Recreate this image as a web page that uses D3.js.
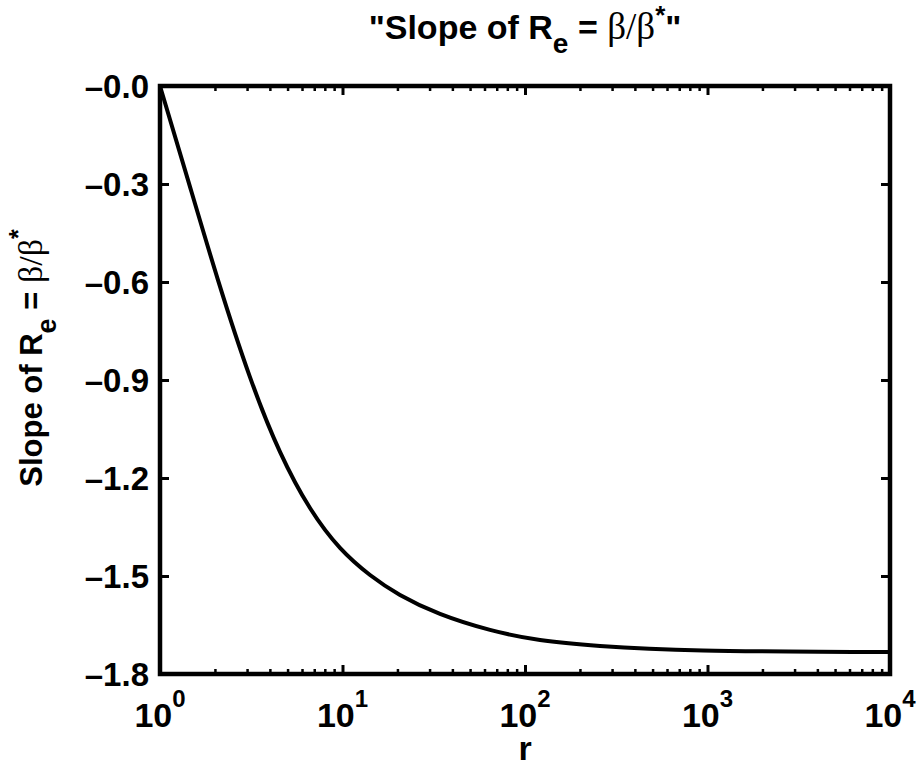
<!DOCTYPE html>
<html>
<head>
<meta charset="utf-8">
<script src="https://cdn.jsdelivr.net/npm/d3@7/dist/d3.min.js"></script>
<style>
  body { margin: 0; background: #fff; }
  svg { display: block; }
  text { font-family: "Liberation Sans", Arial, sans-serif; font-weight: bold; fill: #000; }
  .greek { font-family: "Liberation Serif", "Times New Roman", serif; font-weight: normal; }
</style>
</head>
<body>
<div id="chart"></div>
<script>
var width = 918,
    height = 769;

// values
var rValues     = [1, 1.424, 2.079, 3.112, 4.545, 6.636, 9.69, 14.15, 20.66, 34.21, 64.3, 120.9, 257.6, 944.8, 10000];
var slopeValues = [0, -0.288, -0.594, -0.891, -1.120, -1.292, -1.414, -1.497, -1.558, -1.616, -1.665, -1.696, -1.714, -1.728, -1.733];

var yTicks = [0, -0.3, -0.6, -0.9, -1.2, -1.5, -1.8];
var yTickLabels = ["\u20130.0", "\u20130.3", "\u20130.6", "\u20130.9", "\u20131.2", "\u20131.5", "\u20131.8"];
var xTicks = [1, 10, 100, 1000, 10000];
var xTickExponents = ["0", "1", "2", "3", "4"];

var plotLeft = 160, plotRight = 890, plotTop = 86, plotBottom = 674;

var x = d3.scaleLog().domain([1, 10000]).range([plotLeft, plotRight]);
var y = d3.scaleLinear().domain([-1.8, 0]).range([plotBottom, plotTop]);

var svg = d3.select("#chart").append("svg")
    .attr("width", width)
    .attr("height", height);

// minor ticks for log axis
var minorTicks = [];
for (var d = 1; d < 10000; d *= 10) {
    for (var k = 2; k <= 9; k++) minorTicks.push(d * k);
}

function drawTicks(axis, tx, ty, w) {
    var g = svg.append("g").attr("transform", "translate(" + tx + "," + ty + ")").call(axis);
    g.select(".domain").remove();
    g.selectAll("line").attr("stroke", "#000").attr("stroke-width", w);
    g.selectAll("text").remove();
}

drawTicks(d3.axisBottom(x).tickValues(minorTicks).tickSize(-5).tickFormat(""), 0, plotBottom, 2.5);
drawTicks(d3.axisTop(x).tickValues(minorTicks).tickSize(-5).tickFormat(""), 0, plotTop, 2.5);
drawTicks(d3.axisBottom(x).tickValues(xTicks).tickSize(-9).tickFormat(""), 0, plotBottom, 3);
drawTicks(d3.axisTop(x).tickValues(xTicks).tickSize(-9).tickFormat(""), 0, plotTop, 3);
drawTicks(d3.axisLeft(y).tickValues(yTicks).tickSize(-9).tickFormat(""), plotLeft, 0, 3);
drawTicks(d3.axisRight(y).tickValues(yTicks).tickSize(-9).tickFormat(""), plotRight, 0, 3);

// the curve
var line = d3.line()
    .x(function(d) { return x(d[0]); })
    .y(function(d) { return y(d[1]); })
    .curve(d3.curveNatural);

var pts = rValues.map(function(r, i) { return [r, slopeValues[i]]; });

svg.append("path")
    .datum(pts)
    .attr("d", line)
    .attr("fill", "none")
    .attr("stroke", "#000")
    .attr("stroke-width", 4);

// box
svg.append("rect")
    .attr("x", plotLeft).attr("y", plotTop)
    .attr("width", plotRight - plotLeft).attr("height", plotBottom - plotTop)
    .attr("fill", "none")
    .attr("stroke", "#000")
    .attr("stroke-width", 4.5);

// y tick labels
svg.selectAll(".ylab")
    .data(yTicks)
  .enter().append("text")
    .attr("class", "ylab")
    .attr("x", plotLeft - 11)
    .attr("y", function(d) { return y(d); })
    .attr("dy", "0.36em")
    .attr("text-anchor", "end")
    .style("font-size", "33px")
    .text(function(d, i) { return yTickLabels[i]; });

// x tick labels: 10^n
var xl = svg.selectAll(".xlab")
    .data(xTicks)
  .enter().append("text")
    .attr("class", "xlab")
    .attr("x", function(d) { return x(d); })
    .attr("y", 727)
    .attr("text-anchor", "middle")
    .style("font-size", "34px");
xl.append("tspan").text("10");
xl.append("tspan")
    .attr("dy", -20)
    .style("font-size", "24px")
    .text(function(d, i) { return xTickExponents[i]; });

// x label
svg.append("text")
    .attr("x", (plotLeft + plotRight) / 2)
    .attr("y", 760)
    .attr("text-anchor", "middle")
    .style("font-size", "34px")
    .text("r");

// title
var title = svg.append("text")
    .attr("x", (plotLeft + plotRight) / 2)
    .attr("y", 39)
    .attr("text-anchor", "middle")
    .style("font-size", "34px");
title.append("tspan").text("\"Slope of R");
title.append("tspan").attr("dy", 14).style("font-size", "28px").text("e");
title.append("tspan").attr("dy", -14).text(" = ");
title.append("tspan").attr("class", "greek").style("font-size", "37px").text("\u03b2/\u03b2");
title.append("tspan").attr("dy", -15).style("font-size", "26px").text("*");
title.append("tspan").attr("dy", 15).text("\"");

// y label
var ylabel = svg.append("text")
    .attr("transform", "translate(42,358)rotate(-90)")
    .attr("text-anchor", "middle")
    .style("font-size", "31px");
ylabel.append("tspan").text("Slope of R");
ylabel.append("tspan").attr("dy", 14).style("font-size", "27px").text("e");
ylabel.append("tspan").attr("dy", -14).text(" = ");
ylabel.append("tspan").attr("class", "greek").style("font-size", "34px").text("\u03b2/\u03b2");
ylabel.append("tspan").attr("dy", -15).style("font-size", "25px").text("*");
</script>
</body>
</html>
